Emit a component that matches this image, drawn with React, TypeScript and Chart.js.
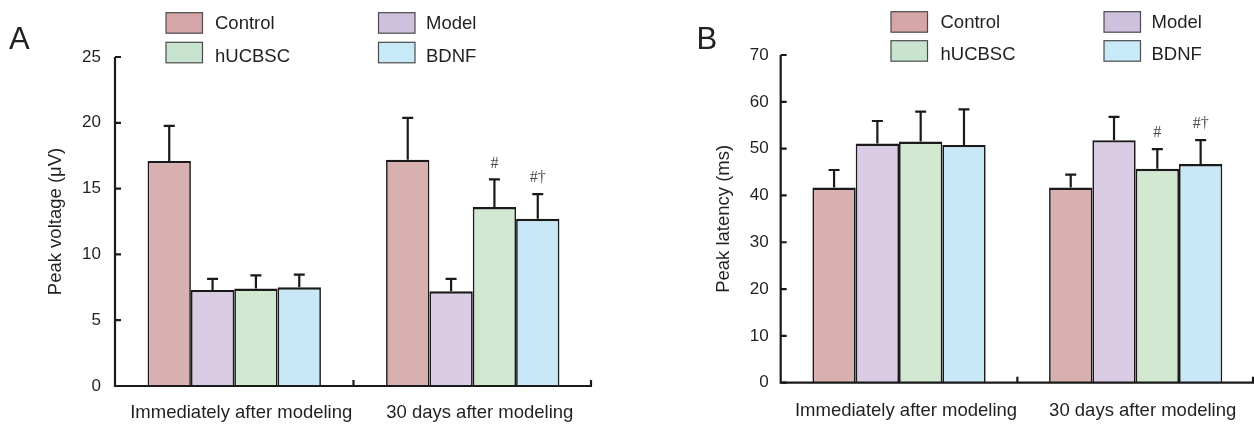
import React, { useEffect, useRef } from "react";
import { Chart, registerables } from "chart.js";

Chart.register(...registerables);

// ---------- data ----------
const categories = ["Immediately after modeling", "30 days after modeling"];
const seriesNames = ["Control", "Model", "hUCBSC", "BDNF"];
const seriesColors = ["#d8b0b0", "#d9cce4", "#d2e8d0", "#c8e8f8"];
const legendColors = ["#d4a6a7", "#cdc1dd", "#c8e4d0", "#c8e9f8"];

// Panel A: peak voltage (μV), per series [immediately, 30 days]
const voltageControl = [17.1, 17.2];
const voltageModel = [7.3, 7.2];
const voltageHUCBSC = [7.4, 13.6];
const voltageBDNF = [7.5, 12.7];
const voltageControlErr = [2.66, 3.18];
const voltageModelErr = [0.84, 0.94];
const voltageHUCBSCErr = [1.01, 2.1];
const voltageBDNFErr = [0.96, 1.88];
const voltageMarks = [["", ""], ["", ""], ["", "#"], ["", "#†"]];
const voltageTicks = [0, 5, 10, 15, 20, 25];

// Panel B: peak latency (ms)
const latencyControl = [41.7, 41.7];
const latencyModel = [51.1, 51.8];
const latencyHUCBSC = [51.5, 45.7];
const latencyBDNF = [50.8, 46.7];
const latencyControlErr = [3.74, 2.74];
const latencyModelErr = [4.8, 5.0];
const latencyHUCBSCErr = [6.4, 4.2];
const latencyBDNFErr = [7.6, 5.1];
const latencyMarks = [["", ""], ["", ""], ["", "#"], ["", "#†"]];
const latencyTicks = [0, 10, 20, 30, 40, 50, 60, 70];

// ---------- layout / style ----------
const W = 627;
const H = 425;
const INK = "#231f20";
const SANS = "'Liberation Sans', Arial, sans-serif";
const SERIF = "'Liberation Serif', 'Times New Roman', serif";

type Panel = {
  letter: string;
  title: string;
  means: number[][];
  errors: number[][];
  marks: string[][];
  ticks: number[];
  offsetLeft: number;
  area: { left: number; right: number; top: number; bottom: number };
  titleOffset: number;
  tickPad: number;
  xPad: number;
  catPct: number;
  legend: { x: number[]; text: number[]; y: number[]; base: number[] };
  letterPos: { x: number; y: number };
};

const panels: Panel[] = [
  {
    letter: "A",
    title: "Peak voltage (μV)",
    means: [voltageControl, voltageModel, voltageHUCBSC, voltageBDNF],
    errors: [voltageControlErr, voltageModelErr, voltageHUCBSCErr, voltageBDNFErr],
    marks: voltageMarks,
    ticks: voltageTicks,
    offsetLeft: 0,
    area: { left: 115, right: 592, top: 57, bottom: 386 },
    titleOffset: 45,
    tickPad: 14,
    xPad: 16,
    catPct: 0.727,
    legend: { x: [166, 378.5], text: [215, 426], y: [12.7, 42.3], base: [29.3, 61.5] },
    letterPos: { x: 9, y: 48.5 },
  },
  {
    letter: "B",
    title: "Peak latency (ms)",
    means: [latencyControl, latencyModel, latencyHUCBSC, latencyBDNF],
    errors: [latencyControlErr, latencyModelErr, latencyHUCBSCErr, latencyBDNFErr],
    marks: latencyMarks,
    ticks: latencyTicks,
    offsetLeft: 627,
    area: { left: 153.7, right: 627, top: 55, bottom: 382.7 },
    titleOffset: 86,
    tickPad: 12,
    xPad: 17,
    catPct: 0.732,
    legend: { x: [264, 477], text: [313.5, 524.5], y: [11.7, 40.7], base: [28, 60.3] },
    letterPos: { x: 69.5, y: 48.5 },
  },
];

function makeChart(canvas: HTMLCanvasElement, p: Panel) {
  const decor = {
    id: "decor",
    afterDatasetsDraw(chart: any) {
      const ctx = chart.ctx;
      const ys = chart.scales.y;
      ctx.save();
      ctx.strokeStyle = "#1a1a1a";
      ctx.lineWidth = 2.2;
      p.means.forEach((_s, i) => {
        const meta = chart.getDatasetMeta(i);
        meta.data.forEach((el: any, j: number) => {
          const top = ys.getPixelForValue(p.means[i][j] + p.errors[i][j]);
          ctx.beginPath();
          ctx.moveTo(el.x, el.y);
          ctx.lineTo(el.x, top);
          ctx.moveTo(el.x - 5.5, top);
          ctx.lineTo(el.x + 5.5, top);
          ctx.stroke();
          const m = p.marks[i][j];
          if (m) {
            ctx.fillStyle = "#4a4a4a";
            ctx.font = `16px ${SERIF}`;
            ctx.textAlign = "center";
            ctx.textBaseline = "middle";
            ctx.fillText(m, el.x, top - 16);
          }
        });
      });
      ctx.restore();
    },
    afterDraw(chart: any) {
      const ctx = chart.ctx;
      const a = chart.chartArea;
      const ys = chart.scales.y;
      const xs = chart.scales.x;
      ctx.save();
      ctx.strokeStyle = "#1a1a1a";
      ctx.lineWidth = 2.2;
      // axes
      ctx.beginPath();
      ctx.moveTo(a.left, a.top);
      ctx.lineTo(a.left, a.bottom);
      ctx.lineTo(a.right, a.bottom);
      ctx.stroke();
      // y ticks (inside)
      ctx.beginPath();
      p.ticks.forEach((t) => {
        const y = ys.getPixelForValue(t);
        ctx.moveTo(a.left, y);
        ctx.lineTo(a.left + 6, y);
      });
      // x ticks at category boundaries (inside)
      for (let k = 1; k < categories.length; k++) {
        const x = (xs.getPixelForValue(k - 1) + xs.getPixelForValue(k)) / 2;
        ctx.moveTo(x, a.bottom);
        ctx.lineTo(x, a.bottom - 6);
      }
      ctx.moveTo(a.right - 1, a.bottom);
      ctx.lineTo(a.right - 1, a.bottom - 6);
      ctx.stroke();
      // legend
      seriesNames.forEach((name, i) => {
        const col = i % 2;
        const row = Math.floor(i / 2);
        const bx = p.legend.x[col];
        const by = p.legend.y[row];
        ctx.fillStyle = legendColors[i];
        ctx.fillRect(bx, by, 36.5, 20.5);
        ctx.strokeStyle = "#4a4a4a";
        ctx.lineWidth = 1.2;
        ctx.strokeRect(bx, by, 36.5, 20.5);
        ctx.fillStyle = INK;
        ctx.font = `18.5px ${SANS}`;
        ctx.textAlign = "left";
        ctx.textBaseline = "alphabetic";
        ctx.fillText(name, p.legend.text[col], p.legend.base[row]);
      });
      // panel letter
      ctx.fillStyle = INK;
      ctx.font = `31px ${SANS}`;
      ctx.textAlign = "left";
      ctx.textBaseline = "alphabetic";
      ctx.fillText(p.letter, p.letterPos.x, p.letterPos.y);
      ctx.restore();
    },
  };

  return new Chart(canvas, {
    type: "bar",
    data: {
      labels: categories,
      datasets: seriesNames.map((name, i) => ({
        label: name,
        data: p.means[i],
        backgroundColor: seriesColors[i],
        borderColor: "#1a1a1a",
        borderWidth: { top: 2.4, left: 1.7, right: 1.7, bottom: 0 },
        borderSkipped: "start",
        categoryPercentage: p.catPct,
        barPercentage: 1,
      })),
    },
    options: {
      responsive: false,
      animation: false,
      devicePixelRatio: 1,
      layout: {
        padding: { left: 0, top: p.area.top, right: W - p.area.right, bottom: 0 },
      },
      plugins: {
        legend: { display: false },
        tooltip: { enabled: false },
      },
      scales: {
        x: {
          grid: { display: false, drawTicks: false },
          border: { display: false },
          ticks: {
            color: INK,
            font: { family: SANS, size: 18.5 },
            padding: p.xPad,
            labelOffset: 7,
            maxRotation: 0,
            autoSkip: false,
          },
          afterFit: (s: any) => {
            s.height = H - p.area.bottom;
          },
        },
        y: {
          min: p.ticks[0],
          max: p.ticks[p.ticks.length - 1],
          grid: { display: false, drawTicks: false },
          border: { display: false },
          ticks: {
            color: INK,
            font: { family: SANS, size: 17 },
            padding: p.tickPad,
          },
          afterBuildTicks: (s: any) => {
            s.ticks = p.ticks.map((v) => ({ value: v }));
          },
          afterFit: (s: any) => {
            s.width = p.area.left;
          },
          title: {
            display: true,
            text: p.title,
            color: INK,
            font: { family: SANS, size: 18.5 },
            padding: { top: p.titleOffset, bottom: 0 },
          },
        },
      },
    },
    plugins: [decor],
  } as any);
}

function PanelChart({ p }: { p: Panel }) {
  const ref = useRef<HTMLCanvasElement | null>(null);
  useEffect(() => {
    if (!ref.current) return;
    const c = makeChart(ref.current, p);
    return () => c.destroy();
  }, [p]);
  return (
    <canvas
      ref={ref}
      width={W}
      height={H}
      style={{ position: "absolute", left: p.offsetLeft, top: 0, width: W, height: H }}
    />
  );
}

export default function App() {
  return (
    <div
      style={{
        position: "absolute",
        left: 0,
        top: 0,
        width: 1254,
        height: 425,
        background: "#ffffff",
        overflow: "hidden",
      }}
    >
      {panels.map((p) => (
        <PanelChart key={p.letter} p={p} />
      ))}
    </div>
  );
}
